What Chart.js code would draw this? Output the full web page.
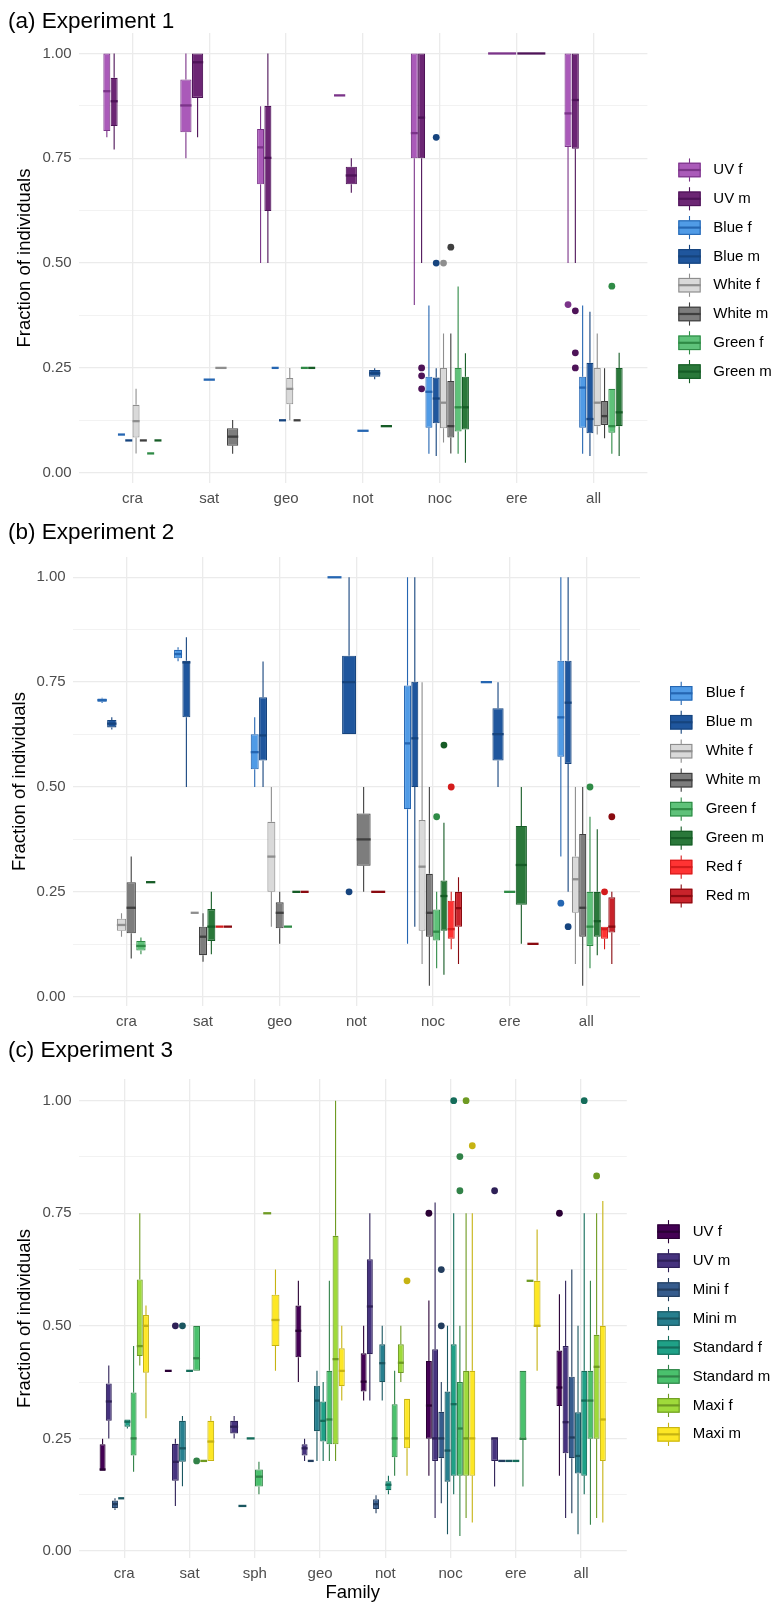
<!DOCTYPE html>
<html>
<head>
<meta charset="utf-8">
<title>Fraction of individuals by family</title>
<script src="https://cdn.jsdelivr.net/npm/chart.js@4.4.1/dist/chart.umd.min.js"></script>
<style>
  html, body { margin: 0; padding: 0; background: #fff; }
  body { width: 775px; height: 1606px; position: relative; overflow: hidden; }
  canvas { position: absolute; left: 0; }
</style>
</head>
<body>
<canvas id="exp1" width="775" height="512" style="top:0px"></canvas>
<canvas id="exp2" width="775" height="518" style="top:512px"></canvas>
<canvas id="exp3" width="775" height="576" style="top:1030px"></canvas>
<script>
// box rows are [lower whisker, Q1, median, Q3, upper whisker], one per family, null = no box

// ---------- Experiment 1 ----------
const exp1Families = ['cra', 'sat', 'geo', 'not', 'noc', 'ere', 'all'];
const exp1Groups = ['UV f', 'UV m', 'Blue f', 'Blue m', 'White f', 'White m', 'Green f', 'Green m'];

const exp1UVf = [
  [0.80, 0.815, 0.91, 1.00, 1.00],
  [0.75, 0.812, 0.876, 0.938, 1.00],
  [0.50, 0.688, 0.776, 0.82, 0.874],
  [0.90, 0.90, 0.90, 0.90, 0.90],
  [0.40, 0.75, 0.81, 1.00, 1.00],
  [1.00, 1.00, 1.00, 1.00, 1.00],
  [0.50, 0.777, 0.857, 1.00, 1.00]
];
const exp1UVm = [
  [0.771, 0.827, 0.886, 0.942, 1.00],
  [0.80, 0.894, 0.979, 1.00, 1.00],
  [0.50, 0.624, 0.751, 0.875, 1.00],
  [0.668, 0.688, 0.709, 0.73, 0.75],
  [0.50, 0.75, 0.847, 1.00, 1.00],
  [1.00, 1.00, 1.00, 1.00, 1.00],
  [0.50, 0.773, 0.889, 1.00, 1.00]
];
const exp1Bluef = [
  [0.091, 0.091, 0.091, 0.091, 0.091],
  [0.222, 0.222, 0.222, 0.222, 0.222],
  [0.25, 0.25, 0.25, 0.25, 0.25],
  [0.10, 0.10, 0.10, 0.10, 0.10],
  [0.045, 0.107, 0.193, 0.229, 0.399],
  null,
  [0.045, 0.107, 0.203, 0.229, 0.399]
];
const exp1Bluem = [
  [0.077, 0.077, 0.077, 0.077, 0.077],
  null,
  [0.125, 0.125, 0.125, 0.125, 0.125],
  [0.223, 0.229, 0.237, 0.245, 0.249],
  [0.040, 0.118, 0.177, 0.227, 0.249],
  null,
  [0.040, 0.094, 0.128, 0.262, 0.384]
];
const exp1Whitef = [
  [0.046, 0.084, 0.123, 0.162, 0.20],
  [0.25, 0.25, 0.25, 0.25, 0.25],
  [0.125, 0.163, 0.20, 0.226, 0.25],
  null,
  [0.072, 0.106, 0.167, 0.25, 0.332],
  null,
  [0.091, 0.111, 0.167, 0.25, 0.332]
];
const exp1Whitem = [
  [0.077, 0.077, 0.077, 0.077, 0.077],
  [0.045, 0.064, 0.086, 0.106, 0.126],
  [0.125, 0.125, 0.125, 0.125, 0.125],
  null,
  [0.046, 0.084, 0.111, 0.219, 0.332],
  null,
  [0.082, 0.114, 0.135, 0.171, 0.249]
];
const exp1Greenf = [
  [0.046, 0.046, 0.046, 0.046, 0.046],
  null,
  [0.25, 0.25, 0.25, 0.25, 0.25],
  null,
  [0.045, 0.098, 0.156, 0.25, 0.444],
  null,
  [0.045, 0.095, 0.111, 0.20, 0.20]
];
const exp1Greenm = [
  [0.077, 0.077, 0.077, 0.077, 0.077],
  null,
  [0.25, 0.25, 0.25, 0.25, 0.25],
  [0.111, 0.111, 0.111, 0.111, 0.111],
  [0.024, 0.103, 0.156, 0.229, 0.285],
  null,
  [0.040, 0.111, 0.144, 0.25, 0.286]
];
const exp1Outliers = [
  ['UV m', 'noc', 0.25], ['UV m', 'noc', 0.231], ['UV m', 'noc', 0.20],
  ['Blue m', 'noc', 0.80], ['Blue m', 'noc', 0.50],
  ['White f', 'noc', 0.50], ['White m', 'noc', 0.538],
  ['UV f', 'all', 0.401], ['UV m', 'all', 0.386], ['UV m', 'all', 0.286], ['UV m', 'all', 0.25],
  ['Green f', 'all', 0.445]
];

// ---------- Experiment 2 ----------
const exp2Families = ['cra', 'sat', 'geo', 'not', 'noc', 'ere', 'all'];
const exp2Groups = ['Blue f', 'Blue m', 'White f', 'White m', 'Green f', 'Green m', 'Red f', 'Red m'];

const exp2Bluef = [
  [0.700, 0.703, 0.707, 0.711, 0.713],
  [0.800, 0.807, 0.817, 0.827, 0.833],
  [0.50, 0.542, 0.583, 0.626, 0.666],
  [1.00, 1.00, 1.00, 1.00, 1.00],
  [0.126, 0.447, 0.604, 0.742, 1.00],
  [0.75, 0.75, 0.75, 0.75, 0.75],
  [0.334, 0.572, 0.666, 0.801, 1.00]
];
const exp2Bluem = [
  [0.637, 0.642, 0.651, 0.66, 0.666],
  [0.50, 0.666, 0.797, 0.801, 0.857],
  [0.50, 0.563, 0.623, 0.714, 0.799],
  [0.626, 0.626, 0.75, 0.813, 1.00],
  [0.167, 0.50, 0.616, 0.751, 1.00],
  [0.50, 0.563, 0.626, 0.688, 0.75],
  [0.25, 0.555, 0.701, 0.801, 1.00]
];
const exp2Whitef = [
  [0.143, 0.157, 0.171, 0.186, 0.199],
  [0.20, 0.20, 0.20, 0.20, 0.20],
  [0.167, 0.25, 0.334, 0.417, 0.50],
  null,
  [0.078, 0.157, 0.31, 0.421, 0.75],
  null,
  [0.078, 0.20, 0.28, 0.334, 0.50]
];
const exp2Whitem = [
  [0.091, 0.151, 0.212, 0.273, 0.334],
  [0.083, 0.099, 0.143, 0.167, 0.199],
  [0.126, 0.163, 0.20, 0.225, 0.25],
  [0.25, 0.312, 0.375, 0.437, 0.50],
  [0.026, 0.143, 0.20, 0.293, 0.50],
  null,
  [0.026, 0.143, 0.212, 0.388, 0.50]
];
const exp2Greenf = [
  [0.101, 0.11, 0.121, 0.133, 0.141],
  null,
  [0.167, 0.167, 0.167, 0.167, 0.167],
  null,
  [0.068, 0.134, 0.155, 0.208, 0.25],
  [0.25, 0.25, 0.25, 0.25, 0.25],
  [0.068, 0.121, 0.167, 0.25, 0.429]
];
const exp2Greenm = [
  [0.273, 0.273, 0.273, 0.273, 0.273],
  [0.101, 0.133, 0.167, 0.209, 0.25],
  [0.25, 0.25, 0.25, 0.25, 0.25],
  null,
  [0.052, 0.157, 0.24, 0.277, 0.415],
  [0.126, 0.219, 0.314, 0.407, 0.50],
  [0.099, 0.143, 0.18, 0.25, 0.399]
];
const exp2Redf = [
  null,
  [0.167, 0.167, 0.167, 0.167, 0.167],
  null,
  null,
  [0.113, 0.138, 0.161, 0.229, 0.25],
  null,
  [0.113, 0.138, 0.161, 0.167, 0.167]
];
const exp2Redm = [
  null,
  [0.167, 0.167, 0.167, 0.167, 0.167],
  [0.25, 0.25, 0.25, 0.25, 0.25],
  [0.25, 0.25, 0.25, 0.25, 0.25],
  [0.078, 0.167, 0.211, 0.25, 0.285],
  [0.126, 0.126, 0.126, 0.126, 0.126],
  [0.078, 0.153, 0.167, 0.237, 0.25]
];
const exp2Outliers = [
  ['Blue m', 'not', 0.25],
  ['Green f', 'noc', 0.429], ['Green m', 'noc', 0.60], ['Red f', 'noc', 0.50],
  ['Blue f', 'all', 0.223], ['Blue m', 'all', 0.167], ['Green f', 'all', 0.50],
  ['Red f', 'all', 0.25], ['Red m', 'all', 0.429]
];

// ---------- Experiment 3 ----------
const exp3Families = ['cra', 'sat', 'sph', 'geo', 'not', 'noc', 'ere', 'all'];
const exp3Groups = ['UV f', 'UV m', 'Mini f', 'Mini m', 'Standard f', 'Standard m', 'Maxi f', 'Maxi m'];

const exp3UVf = [
  [0.178, 0.178, 0.181, 0.237, 0.249],
  [0.40, 0.40, 0.40, 0.40, 0.40],
  null,
  [0.375, 0.43, 0.489, 0.545, 0.60],
  [0.334, 0.354, 0.376, 0.439, 0.50],
  [0.167, 0.249, 0.323, 0.422, 0.556],
  null,
  [0.167, 0.322, 0.363, 0.445, 0.57]
];
const exp3UVm = [
  [0.25, 0.289, 0.332, 0.372, 0.412],
  [0.10, 0.156, 0.198, 0.238, 0.249],
  [0.25, 0.261, 0.276, 0.289, 0.30],
  [0.20, 0.212, 0.228, 0.237, 0.249],
  [0.334, 0.437, 0.543, 0.648, 0.75],
  [0.073, 0.20, 0.25, 0.448, 0.774],
  [0.143, 0.20, 0.25, 0.25, 0.25],
  [0.073, 0.217, 0.286, 0.455, 0.60]
];
const exp3Minif = [
  [0.091, 0.095, 0.104, 0.112, 0.117],
  null,
  null,
  [0.20, 0.20, 0.20, 0.20, 0.20],
  [0.084, 0.093, 0.104, 0.115, 0.124],
  [0.106, 0.206, 0.25, 0.309, 0.375],
  [0.20, 0.20, 0.20, 0.20, 0.20],
  [0.084, 0.206, 0.252, 0.387, 0.625]
];
const exp3Minim = [
  [0.117, 0.117, 0.117, 0.117, 0.117],
  [0.144, 0.198, 0.228, 0.289, 0.30],
  [0.10, 0.10, 0.10, 0.10, 0.10],
  [0.20, 0.266, 0.334, 0.367, 0.40],
  [0.334, 0.375, 0.417, 0.459, 0.50],
  [0.037, 0.154, 0.223, 0.354, 0.50],
  [0.20, 0.20, 0.20, 0.20, 0.20],
  [0.037, 0.172, 0.211, 0.308, 0.50]
];
const exp3Stdf = [
  [0.272, 0.276, 0.287, 0.292, 0.292],
  [0.40, 0.40, 0.40, 0.40, 0.40],
  [0.25, 0.25, 0.25, 0.25, 0.25],
  [0.20, 0.243, 0.289, 0.332, 0.375],
  [0.126, 0.135, 0.147, 0.155, 0.167],
  [0.126, 0.167, 0.326, 0.459, 0.75],
  [0.20, 0.20, 0.20, 0.20, 0.20],
  [0.126, 0.167, 0.334, 0.40, 0.75]
];
const exp3Stdm = [
  [0.176, 0.212, 0.25, 0.352, 0.455],
  [0.40, 0.40, 0.428, 0.50, 0.50],
  [0.126, 0.143, 0.165, 0.181, 0.198],
  [0.20, 0.237, 0.292, 0.40, 0.60],
  [0.167, 0.208, 0.25, 0.326, 0.40],
  [0.033, 0.167, 0.272, 0.375, 0.50],
  [0.143, 0.249, 0.249, 0.40, 0.40],
  [0.058, 0.249, 0.334, 0.40, 0.60]
];
const exp3Maxif = [
  [0.412, 0.433, 0.455, 0.603, 0.75],
  [0.20, 0.20, 0.20, 0.20, 0.20],
  [0.75, 0.75, 0.75, 0.75, 0.75],
  [0.20, 0.237, 0.426, 0.70, 1.00],
  [0.375, 0.395, 0.418, 0.459, 0.50],
  [0.073, 0.167, 0.25, 0.40, 0.75],
  [0.60, 0.60, 0.60, 0.60, 0.60],
  [0.073, 0.249, 0.409, 0.48, 0.75]
];
const exp3Maxim = [
  [0.295, 0.396, 0.50, 0.524, 0.545],
  [0.20, 0.20, 0.243, 0.289, 0.30],
  [0.40, 0.455, 0.513, 0.569, 0.625],
  [0.334, 0.366, 0.40, 0.45, 0.50],
  [0.167, 0.228, 0.25, 0.338, 0.338],
  [0.063, 0.167, 0.25, 0.40, 0.75],
  [0.40, 0.498, 0.50, 0.60, 0.714],
  [0.063, 0.20, 0.292, 0.50, 0.777]
];
const exp3Outliers = [
  ['UV m', 'sat', 0.50], ['Mini m', 'sat', 0.50], ['Standard m', 'sat', 0.20],
  ['Maxi m', 'not', 0.60],
  ['UV f', 'noc', 0.75], ['Mini f', 'noc', 0.625], ['Mini f', 'noc', 0.50],
  ['Standard f', 'noc', 1.00], ['Standard m', 'noc', 0.876], ['Standard m', 'noc', 0.80],
  ['Maxi f', 'noc', 1.00], ['Maxi m', 'noc', 0.90],
  ['UV m', 'ere', 0.80],
  ['UV f', 'all', 0.75], ['Standard f', 'all', 1.00], ['Maxi f', 'all', 0.833]
];

// colours
const exp1Fill = ['#AA5AB9', '#6C2674', '#509BE6', '#1F569D', '#D9D9D9', '#7D7D7D', '#5FC27A', '#2A783A'];
const exp1Line = ['#7B3489', '#4E1358', '#2566B2', '#16447E', '#8E8E8E', '#3F3F3F', '#2F8B46', '#165C26'];
const exp2Fill = ['#509BE6', '#1F569D', '#D9D9D9', '#7D7D7D', '#5FC27A', '#2A783A', '#FF3333', '#C8232B'];
const exp2Line = ['#2566B2', '#16447E', '#8E8E8E', '#3F3F3F', '#2F8B46', '#165C26', '#D41C1C', '#8A0A10'];
const exp3Fill = ['#440154', '#46337E', '#365C8D', '#277F8E', '#1FA187', '#4AC16D', '#9FDA3A', '#FDE725'];
const exp3Line = ['#2A0035', '#2E2057', '#233D5E', '#1A5660', '#146C5A', '#318248', '#6E9A22', '#C6B313'];

Chart.defaults.font.family = '"Liberation Sans", Arial, sans-serif';
Chart.defaults.color = '#4D4D4D';

// ggplot pads a discrete axis by 0.6 of a step, Chart.js by 0.5
const CategoryBase = Chart.CategoryScale || Chart.registry.getScale('category');
class GGCategoryScale extends CategoryBase {
  configure() {
    super.configure();
    this._startValue -= 0.1;
    this._valueRange += 0.2;
  }
}
GGCategoryScale.id = 'ggcategory';
Chart.register(GGCategoryScale);

function isMajor(v) {
  return Math.abs(v * 4 - Math.round(v * 4)) < 1e-6;
}

// whiskers, medians, outliers and the boxplot legend
const boxplotParts = {
  id: 'boxplotParts',
  beforeDatasetsDraw(chart) {
    const ctx = chart.ctx;
    const y = chart.scales.y;
    chart.data.datasets.forEach((ds, i) => {
      const meta = chart.getDatasetMeta(i);
      ds.stats.forEach((s, j) => {
        if (!s) return;
        const x = meta.data[j].x;
        ctx.save();
        ctx.strokeStyle = ds.borderColor;
        ctx.lineWidth = 1.1;
        ctx.beginPath();
        ctx.moveTo(x, y.getPixelForValue(s[4]));
        ctx.lineTo(x, y.getPixelForValue(s[3]));
        ctx.moveTo(x, y.getPixelForValue(s[1]));
        ctx.lineTo(x, y.getPixelForValue(s[0]));
        ctx.stroke();
        ctx.restore();
      });
    });
  },
  afterDatasetsDraw(chart) {
    const ctx = chart.ctx;
    const y = chart.scales.y;
    chart.data.datasets.forEach((ds, i) => {
      const meta = chart.getDatasetMeta(i);
      ctx.save();
      ds.stats.forEach((s, j) => {
        if (!s) return;
        const el = meta.data[j];
        const py = y.getPixelForValue(s[2]);
        ctx.strokeStyle = ds.borderColor;
        ctx.lineWidth = 2.3;
        ctx.beginPath();
        ctx.moveTo(el.x - el.width / 2, py);
        ctx.lineTo(el.x + el.width / 2, py);
        ctx.stroke();
      });
      ds.outliers.forEach(o => {
        const el = meta.data[o[0]];
        ctx.fillStyle = ds.borderColor;
        ctx.beginPath();
        ctx.arc(el.x, y.getPixelForValue(o[1]), 3.4, 0, Math.PI * 2);
        ctx.fill();
      });
      ctx.restore();
    });
  },
  afterDraw(chart, args, opts) {
    const ctx = chart.ctx;
    const w = 22.4;
    ctx.save();
    chart.data.datasets.forEach((ds, i) => {
      const cy = opts.y0 + i * opts.step;
      const cx = opts.x + w / 2;
      ctx.strokeStyle = ds.borderColor;
      ctx.lineWidth = 1.1;
      ctx.beginPath();
      ctx.moveTo(cx, cy - 11.6);
      ctx.lineTo(cx, cy + 11.6);
      ctx.stroke();
      ctx.fillStyle = ds.backgroundColor;
      ctx.fillRect(opts.x, cy - 7.3, w, 14.6);
      ctx.strokeRect(opts.x + 0.55, cy - 6.75, w - 1.1, 13.5);
      ctx.lineWidth = 2.2;
      ctx.beginPath();
      ctx.moveTo(opts.x, cy);
      ctx.lineTo(opts.x + w, cy);
      ctx.stroke();
      ctx.fillStyle = '#000';
      ctx.font = '15px "Liberation Sans", Arial, sans-serif';
      ctx.textBaseline = 'middle';
      ctx.textAlign = 'left';
      ctx.fillText(ds.label, opts.textX, cy);
    });
    ctx.restore();
  }
};

function buildPanel(id, title, families, groups, stats, outliers, fills, lines, geo) {
  const datasets = groups.map((g, gi) => ({
    label: g,
    data: stats[gi].map(s => (s ? [s[1], s[3]] : null)),
    stats: stats[gi],
    outliers: outliers.filter(o => o[0] === g).map(o => [families.indexOf(o[1]), o[2]]),
    backgroundColor: fills[gi],
    borderColor: lines[gi],
    borderWidth: 1.1,
    borderSkipped: false,
    categoryPercentage: 0.76,
    barPercentage: 0.96,
    skipNull: true
  }));

  new Chart(document.getElementById(id), {
    type: 'bar',
    data: { labels: families, datasets: datasets },
    plugins: [boxplotParts],
    options: {
      responsive: false,
      animation: false,
      events: [],
      layout: { padding: { left: 8, right: 775 - geo.right, top: 0, bottom: 0 } },
      plugins: {
        legend: { display: false },
        tooltip: { enabled: false },
        title: {
          display: true,
          text: title,
          align: 'start',
          color: '#000',
          font: { size: 22.5, weight: 'normal', lineHeight: 1 },
          padding: { top: geo.titleY - 11.25, bottom: geo.top - geo.titleY - 11.25 }
        },
        boxplotParts: { x: geo.legendX, textX: geo.legendTextX, y0: geo.legendY, step: geo.legendStep }
      },
      scales: {
        x: {
          type: 'ggcategory',
          offset: true,
          afterFit: s => { s.height = geo.canvasH - geo.bottom; },
          border: { display: false },
          grid: { offset: false, color: '#EBEBEB', lineWidth: 1.3, drawTicks: false },
          ticks: { padding: 6.5, color: '#4D4D4D', font: { size: 15 }, maxRotation: 0, autoSkip: false },
          title: {
            display: !!geo.xTitle,
            text: 'Family',
            color: '#000',
            font: { size: 18.5 },
            padding: { top: 0, bottom: 2 }
          }
        },
        y: {
          type: 'linear',
          min: geo.yMin,
          max: geo.yMax,
          afterFit: s => { s.width = geo.left - 8; },
          border: { display: false },
          grid: {
            color: '#EBEBEB',
            lineWidth: c => (isMajor(c.tick.value) ? 1.3 : 0.65),
            drawTicks: false
          },
          ticks: {
            stepSize: 0.125,
            includeBounds: false,
            autoSkip: false,
            padding: 7,
            color: '#4D4D4D',
            font: { size: 15 },
            callback: v => (isMajor(v) ? v.toFixed(2) : '')
          },
          title: {
            display: true,
            text: 'Fraction of individuals',
            color: '#000',
            font: { size: 18.5 },
            padding: { top: geo.yTitleX - 8 - 11.1, bottom: 0 }
          }
        }
      }
    }
  });
}

buildPanel('exp1', '(a) Experiment 1', exp1Families, exp1Groups,
  [exp1UVf, exp1UVm, exp1Bluef, exp1Bluem, exp1Whitef, exp1Whitem, exp1Greenf, exp1Greenm],
  exp1Outliers, exp1Fill, exp1Line,
  { canvasH: 512, left: 78.6, right: 647.4, top: 33, bottom: 483.1, titleY: 21.5,
    yMin: -0.0248, yMax: 1.0488, yTitleX: 25,
    legendX: 678.3, legendTextX: 713.3, legendY: 170, legendStep: 28.8 });

buildPanel('exp2', '(b) Experiment 2', exp2Families, exp2Groups,
  [exp2Bluef, exp2Bluem, exp2Whitef, exp2Whitem, exp2Greenf, exp2Greenm, exp2Redf, exp2Redm],
  exp2Outliers, exp2Fill, exp2Line,
  { canvasH: 518, left: 72.7, right: 640, top: 44.9, bottom: 494.2, titleY: 21,
    yMin: -0.0227, yMax: 1.0486, yTitleX: 20,
    legendX: 670, legendTextX: 705.7, legendY: 181.3, legendStep: 28.96 });

buildPanel('exp3', '(c) Experiment 3', exp3Families, exp3Groups,
  [exp3UVf, exp3UVm, exp3Minif, exp3Minim, exp3Stdf, exp3Stdm, exp3Maxif, exp3Maxim],
  exp3Outliers, exp3Fill, exp3Line,
  { canvasH: 576, left: 78.6, right: 626.8, top: 49, bottom: 527.9, titleY: 21,
    yMin: -0.0154, yMax: 1.0482, yTitleX: 25, xTitle: true,
    legendX: 657.3, legendTextX: 692.7, legendY: 201.7, legendStep: 28.95 });
</script>
</body>
</html>
